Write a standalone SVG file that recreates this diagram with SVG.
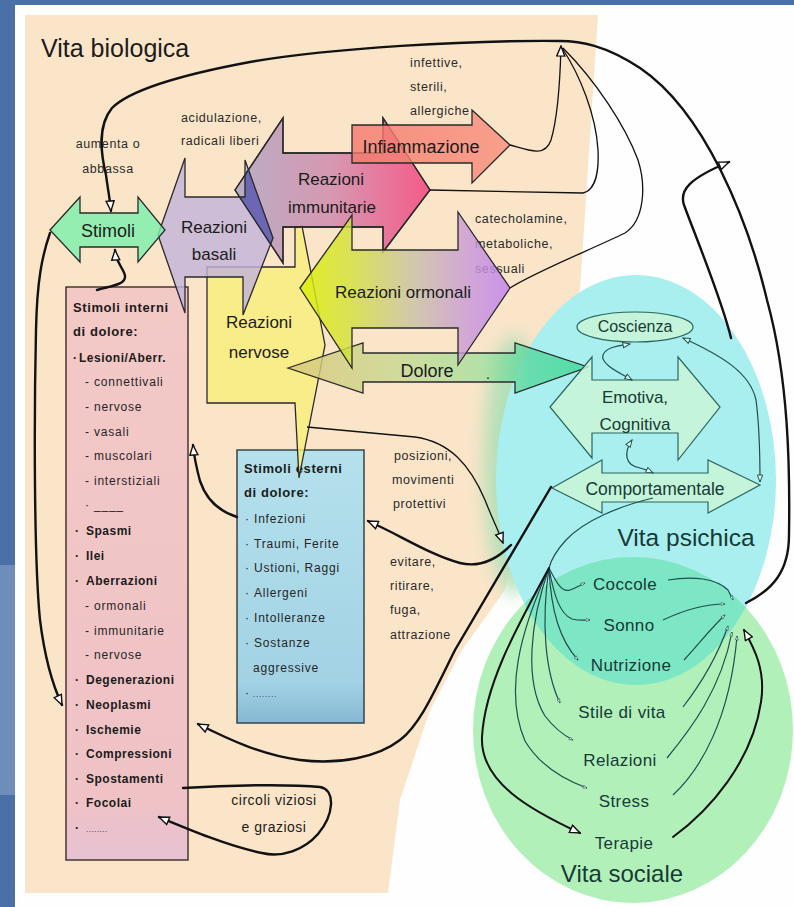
<svg xmlns="http://www.w3.org/2000/svg" width="794" height="907" viewBox="0 0 794 907">
<defs>
<style>
.t{font-family:'Liberation Sans',Arial,sans-serif;fill:#1b1b1b}
.c{text-anchor:middle}
.title{font-size:25px}
.nd{font-size:17px}
.lab{font-size:12.5px;letter-spacing:0.6px;fill:#2a2a2a}
.bh{font-size:13px;font-weight:bold;letter-spacing:0.6px}
.bb{font-size:12px;font-weight:bold;letter-spacing:0.5px}
.bs{font-size:12px;letter-spacing:0.8px;fill:#262626}
.ps{fill:#173a36}
.si{font-size:17px;letter-spacing:0.4px;fill:#173a36}
.sh{stroke:#2a2a2a;stroke-width:1.3;fill-opacity:0.82}
.psh{fill:#c9f6d6;fill-opacity:0.85;stroke:#2c6660;stroke-width:1.2}
.k{fill:none;stroke:#121212;stroke-width:2.4;stroke-linecap:round}
.kt{fill:none;stroke:#121212;stroke-width:1.3}
.tl{fill:none;stroke:#1f4f4c;stroke-width:1.2}
</style>
<marker id="ah" viewBox="0 0 12 10" refX="11" refY="5" markerWidth="12" markerHeight="10" markerUnits="userSpaceOnUse" orient="auto">
  <path d="M1,1 L11,5 L1,9 Z" fill="#fff" stroke="#111" stroke-width="1.4"/>
</marker>
<marker id="at" viewBox="0 0 10 8" refX="9" refY="4" markerWidth="9" markerHeight="7" markerUnits="userSpaceOnUse" orient="auto-start-reverse">
  <path d="M1,1 L9,4 L1,7 Z" fill="#e2fbf2" stroke="#1f4f4c" stroke-width="1.1"/>
</marker>
<marker id="ati" viewBox="0 0 10 8" refX="9" refY="4" markerWidth="5" markerHeight="4" markerUnits="userSpaceOnUse" orient="auto">
  <path d="M1,1 L9,4 L1,7 Z" fill="#e2fbf2" stroke="#1f4f4c" stroke-width="1.2"/>
</marker>
<linearGradient id="gImm" gradientUnits="userSpaceOnUse" x1="235" y1="0" x2="430" y2="0">
  <stop offset="0" stop-color="#a9a3c2"/><stop offset="0.5" stop-color="#cf86ac"/><stop offset="1" stop-color="#f33d7a"/>
</linearGradient>
<linearGradient id="gOrm" gradientUnits="userSpaceOnUse" x1="300" y1="0" x2="510" y2="0">
  <stop offset="0" stop-color="#dcf000"/><stop offset="0.25" stop-color="#d2e040"/><stop offset="0.55" stop-color="#c8c0a8"/><stop offset="0.8" stop-color="#c89ad8"/><stop offset="1" stop-color="#c080f0"/>
</linearGradient>
<linearGradient id="gDol" gradientUnits="userSpaceOnUse" x1="288" y1="0" x2="588" y2="0">
  <stop offset="0" stop-color="#d8c67a"/><stop offset="0.35" stop-color="#c8d890"/><stop offset="0.65" stop-color="#a4e0a0"/><stop offset="0.8" stop-color="#5cd8a0"/><stop offset="1" stop-color="#40d898"/>
</linearGradient>
<linearGradient id="gInf" gradientUnits="userSpaceOnUse" x1="352" y1="0" x2="510" y2="0">
  <stop offset="0" stop-color="#f47a6e"/><stop offset="1" stop-color="#f8907e"/>
</linearGradient>
<linearGradient id="gPink" x1="0" y1="0" x2="0" y2="1">
  <stop offset="0" stop-color="#f3c9c6"/><stop offset="0.9" stop-color="#efc2c6"/><stop offset="1" stop-color="#e6c2d2"/>
</linearGradient>
<linearGradient id="gBlue" x1="0" y1="0" x2="0" y2="1">
  <stop offset="0" stop-color="#b5e1ec"/><stop offset="0.85" stop-color="#a2d2e4"/><stop offset="1" stop-color="#86b8d4"/>
</linearGradient>
<clipPath id="immClip">
  <polygon points="235,190 283,118 283,153 383,153 383,118 430,190 383,252 383,227 283,227 283,263"/>
</clipPath>
<clipPath id="greenClip">
  <ellipse cx="633" cy="730" rx="160" ry="173"/>
</clipPath>
<filter id="soft" x="-60%" y="-30%" width="220%" height="160%">
  <feGaussianBlur stdDeviation="9"/>
</filter>
</defs>

<!-- slide frame -->
<rect width="794" height="907" fill="#4b70a8"/>
<rect x="0" y="565" width="15" height="230" fill="#9cb2cf" opacity="0.45"/>
<rect x="15" y="5" width="779" height="902" fill="#fefefe"/>

<!-- life areas -->
<g id="vita-biologica">
  <polygon points="25,15 598,15 580,290 545,400 505,590 462,650 430,710 400,800 388,893 25,893" fill="#fbe5c9"/>
  <text class="t title" x="41" y="57">Vita biologica</text>
</g>
<g id="vita-psichica">
  <ellipse cx="514" cy="465" rx="30" ry="130" fill="#b2e0b8" filter="url(#soft)"/>
  <ellipse cx="636" cy="480" rx="140" ry="205" fill="#a9eff0"/>
  <text class="t ps c" x="686" y="546" font-size="24.5">Vita psichica</text>
</g>
<g id="vita-sociale">
  <ellipse cx="633" cy="730" rx="160" ry="173" fill="#b2f0ba"/>
  <ellipse cx="636" cy="480" rx="140" ry="205" fill="#7de6c4" clip-path="url(#greenClip)"/>
  <text class="t ps c" x="622" y="882" font-size="24">Vita sociale</text>
</g>

<!-- side labels -->
<g id="labels">
  <text class="t lab c" x="108" y="148">aumenta o</text>
  <text class="t lab c" x="108" y="173">abbassa</text>
  <text class="t lab" x="181" y="122">acidulazione,</text>
  <text class="t lab" x="181" y="145">radicali liberi</text>
  <text class="t lab" x="410" y="67">infettive,</text>
  <text class="t lab" x="410" y="91">sterili,</text>
  <text class="t lab" x="410" y="115">allergiche</text>
  <text class="t lab" x="475" y="223">catecholamine,</text>
  <text class="t lab" x="475" y="248">metaboliche,</text>
  <text class="t lab" x="475" y="273">sessuali</text>
  <text class="t lab" x="394" y="460">posizioni,</text>
  <text class="t lab" x="392" y="484">movimenti</text>
  <text class="t lab" x="393" y="508">protettivi</text>
  <text class="t lab" x="390" y="566">evitare,</text>
  <text class="t lab" x="390" y="590">ritirare,</text>
  <text class="t lab" x="390" y="614">fuga,</text>
  <text class="t lab" x="390" y="639">attrazione</text>
  <text class="t c" x="274" y="805" font-size="14" letter-spacing="0.5">circoli viziosi</text>
  <text class="t c" x="274" y="832" font-size="14" letter-spacing="0.5">e graziosi</text>
</g>

<!-- internal pain stimuli -->
<g id="stimoli-interni">
  <rect x="66" y="287" width="122" height="573" fill="url(#gPink)" stroke="#4a3434" stroke-width="1.5"/>
  <text class="t bh" x="73" y="312">Stimoli interni</text>
  <text class="t bh" x="73" y="336">di dolore:</text>
  <text class="t bb" y="362"><tspan x="73">·</tspan><tspan x="79">Lesioni/Aberr.</tspan></text>
  <text class="t bs" x="85" y="386">- connettivali</text>
  <text class="t bs" x="85" y="411">- nervose</text>
  <text class="t bs" x="85" y="436">- vasali</text>
  <text class="t bs" x="85" y="460">- muscolari</text>
  <text class="t bs" x="85" y="485">- interstiziali</text>
  <text class="t bs" x="85" y="509">· ____</text>
  <text class="t bb" y="535"><tspan x="75">·</tspan><tspan x="86">Spasmi</tspan></text>
  <text class="t bb" y="560"><tspan x="75">·</tspan><tspan x="86">Ilei</tspan></text>
  <text class="t bb" y="585"><tspan x="75">·</tspan><tspan x="86">Aberrazioni</tspan></text>
  <text class="t bs" x="85" y="610">- ormonali</text>
  <text class="t bs" x="85" y="635">- immunitarie</text>
  <text class="t bs" x="85" y="659">- nervose</text>
  <text class="t bb" y="684"><tspan x="75">·</tspan><tspan x="86">Degenerazioni</tspan></text>
  <text class="t bb" y="709"><tspan x="75">·</tspan><tspan x="86">Neoplasmi</tspan></text>
  <text class="t bb" y="734"><tspan x="75">·</tspan><tspan x="86">Ischemie</tspan></text>
  <text class="t bb" y="758"><tspan x="75">·</tspan><tspan x="86">Compressioni</tspan></text>
  <text class="t bb" y="783"><tspan x="75">·</tspan><tspan x="86">Spostamenti</tspan></text>
  <text class="t bb" y="807"><tspan x="75">·</tspan><tspan x="86">Focolai</tspan></text>
  <text class="t bb" y="832"><tspan x="75">·</tspan><tspan x="86" font-size="8" font-weight="normal">........</tspan></text>
</g>

<!-- external pain stimuli -->
<g id="stimoli-esterni">
  <rect x="237" y="450" width="127" height="273" fill="url(#gBlue)" stroke="#36444e" stroke-width="1.5"/>
  <text class="t bh" x="244" y="473">Stimoli esterni</text>
  <text class="t bh" x="244" y="497">di dolore:</text>
  <text class="t bs" y="523"><tspan x="245">·</tspan><tspan x="254">Infezioni</tspan></text>
  <text class="t bs" y="548"><tspan x="245">·</tspan><tspan x="254">Traumi, Ferite</tspan></text>
  <text class="t bs" y="572"><tspan x="245">·</tspan><tspan x="254">Ustioni, Raggi</tspan></text>
  <text class="t bs" y="597"><tspan x="245">·</tspan><tspan x="254">Allergeni</tspan></text>
  <text class="t bs" y="622"><tspan x="245">·</tspan><tspan x="254">Intolleranze</tspan></text>
  <text class="t bs" y="647"><tspan x="245">·</tspan><tspan x="254">Sostanze</tspan></text>
  <text class="t bs" x="253" y="672">aggressive</text>
  <text class="t bs" y="697"><tspan x="245">·</tspan><tspan x="253" font-size="8">........</tspan></text>
</g>

<!-- reaction arrows -->
<g id="reazioni-nervose">
  <polygon class="sh" points="207,267 295,267 295,228 302,226 325,345 299,478 295,403 207,403" fill="#f8ee7c"/>
  <text class="t nd c" x="259" y="328">Reazioni</text>
  <text class="t nd c" x="259" y="358">nervose</text>
</g>
<g id="reazioni-basali">
  <polygon class="sh" points="158,235 185,158 185,197 245,197 245,160 273,238 243,315 243,277 185,277 185,313" fill="#c2b3d9"/>
  <text class="t nd c" x="214" y="233">Reazioni</text>
  <text class="t nd c" x="214" y="260">basali</text>
</g>
<g id="reazioni-immunitarie">
  <polygon class="sh" points="235,190 283,118 283,153 383,153 383,118 430,190 383,252 383,227 283,227 283,263" fill="url(#gImm)"/>
  <polygon points="158,235 185,158 185,197 245,197 245,160 273,238 243,315 243,277 185,277 185,313" fill="#5f5cb2" fill-opacity="0.85" stroke="#2a2a2a" stroke-width="1.3" clip-path="url(#immClip)"/>
  <polygon points="235,190 283,118 283,153 383,153 383,118 430,190 383,252 383,227 283,227 283,263" fill="none" stroke="#2a2a2a" stroke-width="1.3"/>
  <text class="t nd c" x="331" y="185">Reazioni</text>
  <text class="t nd c" x="332" y="213">immunitarie</text>
</g>
<g id="infiammazione">
  <polygon class="sh" points="352,125 472,125 472,110 510,145 472,183 472,163 352,163" fill="url(#gInf)" fill-opacity="0.72"/>
  <text class="t c" x="421" y="153" font-size="18">Infiammazione</text>
</g>
<g id="dolore">
  <polygon class="sh" points="288,368 363,343 363,353 515,353 515,343 588,367 515,393 515,382 363,382 363,393" fill="url(#gDol)" fill-opacity="0.88"/>
  <text class="t c" x="427" y="377" font-size="18">Dolore</text>
  <text class="t" x="486" y="379" font-size="14">.</text>
</g>
<g id="reazioni-ormonali">
  <polygon class="sh" points="300,288 352,215 352,250 458,250 458,212 510,288 458,365 458,328 352,328 352,368" fill="url(#gOrm)" fill-opacity="0.86"/>
  <text class="t nd c" x="403" y="298">Reazioni ormonali</text>
</g>
<g id="stimoli">
  <polygon class="sh" points="50,230 80,197 80,213 138,213 138,197 165,230 138,262 138,247 80,247 80,262" fill="#7cefac"/>
  <text class="t c" x="108" y="237" font-size="18">Stimoli</text>
</g>

<!-- psychic levels -->
<g id="coscienza">
  <ellipse cx="635" cy="327" rx="58" ry="15" class="psh"/>
  <text class="t ps c" x="635" y="332" font-size="16">Coscienza</text>
</g>
<g id="emotiva-cognitiva">
  <polygon class="psh" points="550,407 592,357 592,380 678,380 678,357 720,407 678,460 678,433 592,433 592,458"/>
  <text class="t ps c" x="635" y="403" font-size="17">Emotiva,</text>
  <text class="t ps c" x="635" y="430" font-size="17">Cognitiva</text>
</g>
<g id="comportamentale">
  <polygon class="psh" points="552,488 602,460 602,473 708,473 708,460 760,485 708,513 708,502 602,502 602,513"/>
  <text class="t ps c" x="655" y="495" font-size="17.5">Comportamentale</text>
</g>

<!-- social factors -->
<g id="coccole"><text class="t si c" x="625" y="590">Coccole</text></g>
<g id="sonno"><text class="t si c" x="629" y="631">Sonno</text></g>
<g id="nutrizione"><text class="t si c" x="631" y="671">Nutrizione</text></g>
<g id="stile-di-vita"><text class="t si c" x="622" y="718">Stile di vita</text></g>
<g id="relazioni"><text class="t si c" x="620" y="766">Relazioni</text></g>
<g id="stress"><text class="t si c" x="624" y="807">Stress</text></g>
<g id="terapie"><text class="t si c" x="624" y="849">Terapie</text></g>

<!-- connectors -->
<g id="connectors">
  <!-- big feedback loop over the top back to Stimoli -->
  <path class="k" d="M746,603 C772,590 789,572 789,535 C790,470 789,380 767,300 C748,220 705,112 640,68 C605,45 580,41 560,41 C470,40 330,48 250,62 C180,75 130,90 112,108 C98,125 100,150 106,175 C108,190 110,200 111,211" marker-end="url(#ah)"/>
  <!-- reactions feeding the loop -->
  <path class="kt" d="M510,145 C528,150 545,158 551,140 C557,120 560,85 561,46" marker-end="url(#ah)"/>
  <path class="kt" d="M430,190 L583,193 C596,190 599,170 598,150 C596,115 580,75 562,48"/>
  <path class="kt" d="M510,288 C535,272 590,250 625,233 C645,220 646,185 638,160 C625,125 595,80 563,48"/>
  <path class="k" d="M731,338 C722,300 695,235 684,205 C679,190 690,178 729,162" marker-end="url(#ah)"/>
  <!-- protective movements -->
  <path class="kt" d="M307,427 L415,437 C450,442 470,465 485,500 C492,518 498,530 503,543" marker-end="url(#ah)"/>
  <path class="k" d="M551,487 L455,650 C435,690 420,725 400,740 C378,757 340,765 300,760 C262,755 230,740 198,724" marker-end="url(#ah)"/>
  <path class="k" d="M511,545 C496,560 480,568 460,563 C430,555 400,535 368,521" marker-end="url(#ah)"/>
  <!-- stimuli links -->
  <path class="k" d="M237,517 C215,510 205,496 200,481 C196,466 194,456 193,445" marker-end="url(#ah)"/>
  <path class="k" d="M97,290 C110,286 126,285 125,276 C124,268 116,264 115,250" marker-end="url(#ah)"/>
  <path class="k" d="M50,233 C42,256 37,281 36,330 C34,420 34,560 40,620 C45,660 54,688 62,705" marker-end="url(#ah)"/>
  <path class="k" d="M183,788 C230,785 290,784 320,787 C336,790 334,815 318,834 C304,850 282,858 262,853 C228,846 190,830 159,817" marker-end="url(#ah)"/>
  <!-- psychic level links -->
  <path class="tl" d="M632,380 C620,373 600,364 603,355 C606,347 618,346 630,344" marker-start="url(#at)" marker-end="url(#at)"/>
  <path class="tl" d="M632,440 C624,452 624,465 640,468 C645,469 649,471 653,473" marker-start="url(#at)" marker-end="url(#at)"/>
  <path class="tl" d="M683,338 C720,355 750,372 756,400 C760,430 760,460 760,482" marker-start="url(#at)" marker-end="url(#at)"/>
  <path class="tl" d="M653,498 C620,506 585,520 566,540 C556,551 551,560 549,568"/>
  <!-- fan towards social factors -->
  <path class="tl" d="M549,568 C556,582 562,593 570,590 C576,588 580,585 585,583" marker-end="url(#ati)"/>
  <path class="tl" d="M549,568 C554,596 560,614 572,619 C580,621 585,620 590,620" marker-end="url(#ati)"/>
  <path class="tl" d="M549,568 C551,612 560,640 578,660" marker-end="url(#ati)"/>
  <path class="tl" d="M549,568 C541,622 545,672 560,703" marker-end="url(#ati)"/>
  <path class="tl" d="M549,568 C530,622 524,682 545,716 C555,729 563,735 573,740" marker-end="url(#ati)"/>
  <path class="tl" d="M549,568 C520,632 504,692 525,741 C540,766 565,780 587,788" marker-end="url(#ati)"/>
  <path class="k" style="stroke-width:2" d="M549,568 C520,622 485,682 482,737 C480,782 530,810 580,833" marker-end="url(#ah)"/>
  <!-- social factors back to the loop -->
  <path class="tl" d="M668,580 C692,576 716,578 728,590 L733,600" marker-end="url(#ati)"/>
  <path class="tl" d="M663,620 C680,612 702,604 725,604" marker-end="url(#ati)"/>
  <path class="tl" d="M684,660 C698,645 711,628 725,615" marker-end="url(#ati)"/>
  <path class="tl" d="M683,707 C700,685 716,660 728,626" marker-end="url(#ati)"/>
  <path class="tl" d="M667,758 C690,730 721,690 732,632" marker-end="url(#ati)"/>
  <path class="tl" d="M673,795 C700,770 730,720 737,636" marker-end="url(#ati)"/>
  <path class="k" style="stroke-width:2" d="M673,837 C710,810 752,762 761,702 C766,670 754,648 744,630" marker-end="url(#ah)"/>
</g>
</svg>
